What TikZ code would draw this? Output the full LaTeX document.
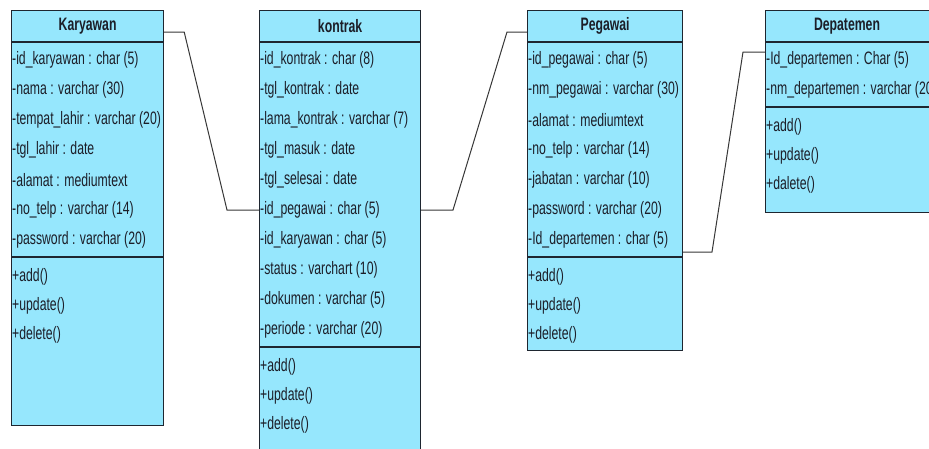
\documentclass[tikz,border=0pt]{standalone}
\usepackage{fontspec}
\setmainfont{Liberation Sans}[FakeStretch=0.68]
\usetikzlibrary{calc}
\definecolor{boxfill}{RGB}{150,231,253}
\definecolor{boxline}{RGB}{30,38,48}
\definecolor{connline}{RGB}{55,55,55}
\definecolor{txt}{RGB}{28,30,40}
\tikzset{
  classbox/.style={draw=boxline, fill=boxfill, line width=1.2pt, inner sep=0pt, anchor=north west},
  sepline/.style={draw=boxline, line width=1.2pt},
  attr/.style={anchor=west, inner sep=0pt, text=txt, font=\fontsize{18}{20}\selectfont},
  head/.style={inner sep=0pt, text=txt, font=\fontsize{18}{20}\selectfont\bfseries},
  conn/.style={draw=connline, line width=1pt},
}
\begin{document}
\begin{tikzpicture}[x=1pt,y=-1pt]
\useasboundingbox (0,0) rectangle (929,448);
\clip (0,0) rectangle (929,448);
\fill[white] (0,0) rectangle (929,448);

% ---------- Karyawan ----------
\node[classbox, minimum width=152pt, minimum height=415pt] (kar) at (11,10) {};
\node[head] (karh) at ($(kar.north)+(0,16)$) {Karyawan};
\draw[sepline] (kar.west |- 0,42) -- (kar.east |- 0,42);
\foreach \t [count=\i] in {-id\_karyawan : char (5), -nama : varchar (30), -tempat\_lahir : varchar (20), -tgl\_lahir : date, -alamat : mediumtext, -no\_telp : varchar (14), -password : varchar (20)}
  \node[attr] (ka\i) at (12,{60+30*(\i-1)}) {\t};
\draw[sepline] (kar.west |- 0,257) -- (kar.east |- 0,257);
\foreach \t [count=\i] in {+add(), +update(), +delete()}
  \node[attr] (ko\i) at (12,{277+29*(\i-1)}) {\t};

% ---------- kontrak ----------
\node[classbox, minimum width=161pt, minimum height=470pt] (kon) at (259,10) {};
\node[head] (konh) at ($(kon.north)+(0,16)$) {kontrak};
\draw[sepline] (kon.west |- 0,42) -- (kon.east |- 0,42);
\foreach \t [count=\i] in {-id\_kontrak : char (8), -tgl\_kontrak : date, -lama\_kontrak : varchar (7), -tgl\_masuk : date, -tgl\_selesai : date, -id\_pegawai : char (5), -id\_karyawan : char (5), -status : varchart (10), -dokumen : varchar (5), -periode : varchar (20)}
  \node[attr] (ta\i) at (260,{60+30*(\i-1)}) {\t};
\draw[sepline] (kon.west |- 0,347) -- (kon.east |- 0,347);
\foreach \t [count=\i] in {+add(), +update(), +delete()}
  \node[attr] (to\i) at (260,{367+29*(\i-1)}) {\t};

% ---------- Pegawai ----------
\node[classbox, minimum width=155pt, minimum height=340pt] (peg) at (527,10) {};
\node[head] (pegh) at ($(peg.north)+(0,16)$) {Pegawai};
\draw[sepline] (peg.west |- 0,42) -- (peg.east |- 0,42);
\foreach \t [count=\i] in {-id\_pegawai : char (5), -nm\_pegawai : varchar (30), -alamat : mediumtext, -no\_telp : varchar (14), -jabatan : varchar (10), -password : varchar (20), -Id\_departemen : char (5)}
  \node[attr] (pa\i) at (528,{60+30*(\i-1)}) {\t};
\draw[sepline] (peg.west |- 0,257) -- (peg.east |- 0,257);
\foreach \t [count=\i] in {+add(), +update(), +delete()}
  \node[attr] (po\i) at (528,{277+29*(\i-1)}) {\t};

% ---------- Depatemen ----------
\node[classbox, minimum width=180pt, minimum height=202pt] (dep) at (765,10) {};
\node[head] (deph) at ($(dep.north west)+(82,16)$) {Depatemen};
\draw[sepline] (dep.west |- 0,42) -- (dep.east |- 0,42);
\foreach \t [count=\i] in {-Id\_departemen : Char (5), -nm\_departemen : varchar (20)}
  \node[attr] (da\i) at (766,{60+30*(\i-1)}) {\t};
\draw[sepline] (dep.west |- 0,107) -- (dep.east |- 0,107);
\foreach \t [count=\i] in {+add(), +update(), +dalete()}
  \node[attr] (do\i) at (766,{127+29*(\i-1)}) {\t};

% ---------- connectors ----------
\coordinate (c1a) at ($(kar.north east)+(20,22)$);
\coordinate (c1b) at (227,210);
\draw[conn] ($(kar.north east)+(0,22)$) -- (c1a) -- (c1b) -- (c1b -| kon.west);
\coordinate (c2a) at (453,210);
\coordinate (c2b) at ($(peg.north west)+(-20,22)$);
\draw[conn] (c2a -| kon.east) -- (c2a) -- (c2b) -- ($(peg.north west)+(0,22)$);
\coordinate (c3a) at (712,252);
\coordinate (c3b) at ($(dep.north west)+(-22,42)$);
\draw[conn] (c3a -| peg.east) -- (c3a) -- (c3b) -- ($(dep.north west)+(0,42)$);
\end{tikzpicture}
\end{document}
